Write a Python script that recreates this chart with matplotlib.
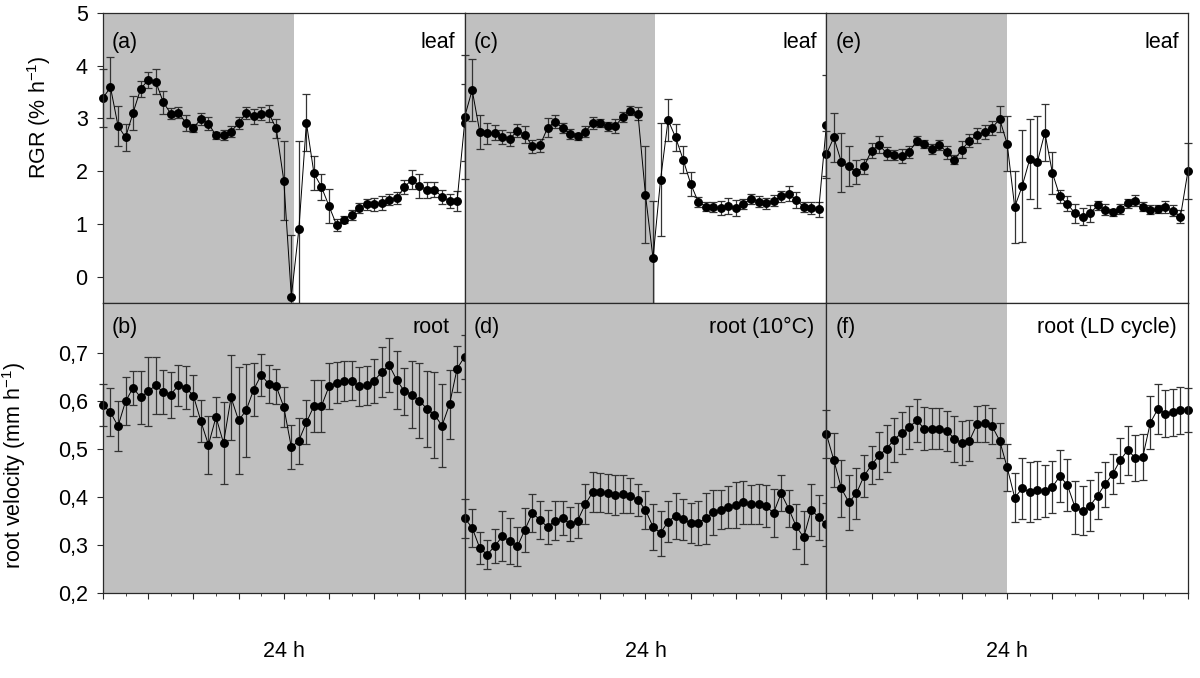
import numpy as np
import matplotlib
matplotlib.use("Agg")
import matplotlib.pyplot as plt
from matplotlib.ticker import MultipleLocator
from matplotlib.transforms import Bbox, TransformedBbox

plt.rcParams['font.family'] = ['Liberation Sans', 'DejaVu Sans']
plt.rcParams['mathtext.fontset'] = 'custom'
plt.rcParams['mathtext.rm'] = 'Liberation Sans'
plt.rcParams['mathtext.default'] = 'rm'

# half-hourly readings over 24 h, one column per experiment
col_start = [0, 24, 48]
dark_end = [12.65, 12.65, 12.0]    # end of dark period (h after column start), top row
bottom_dark_end = [24, 24, 12.0]   # bottom row: (b), (d) fully dark

# leaf RGR (% h-1)
rgr_a = [3.39, 3.59, 2.86, 2.64, 3.11, 3.56, 3.73, 3.70, 3.31, 3.09, 3.11, 2.92, 2.82,
         2.99, 2.90, 2.68, 2.69, 2.75, 2.91, 3.10, 3.04, 3.09, 3.10, 2.81, 1.82, -0.38,
         0.90, 2.92, 1.96, 1.70, 1.34, 0.98, 1.08, 1.17, 1.30, 1.37, 1.37, 1.39, 1.46,
         1.49, 1.70, 1.84, 1.72, 1.65, 1.65, 1.51, 1.44, 1.44, 2.92]
rgr_a_err = [0.55, 0.58, 0.38, 0.26, 0.32, 0.16, 0.15, 0.24, 0.22, 0.10, 0.10, 0.15, 0.07,
             0.12, 0.12, 0.07, 0.10, 0.10, 0.11, 0.11, 0.14, 0.12, 0.16, 0.18, 0.75, 1.17,
             1.68, 0.54, 0.32, 0.25, 0.33, 0.12, 0.07, 0.10, 0.10, 0.10, 0.12, 0.13, 0.11,
             0.11, 0.14, 0.18, 0.22, 0.15, 0.14, 0.14, 0.13, 0.19, 0.73]
rgr_c = [3.03, 3.54, 2.75, 2.72, 2.73, 2.65, 2.61, 2.77, 2.69, 2.47, 2.49, 2.82, 2.94,
         2.82, 2.71, 2.66, 2.75, 2.91, 2.91, 2.85, 2.86, 3.03, 3.15, 3.09, 1.55, 0.35,
         1.84, 2.97, 2.64, 2.22, 1.76, 1.42, 1.33, 1.32, 1.30, 1.34, 1.30, 1.38, 1.47,
         1.42, 1.39, 1.44, 1.52, 1.57, 1.46, 1.32, 1.30, 1.28, 2.87]
rgr_c_err = [1.17, 0.59, 0.32, 0.20, 0.14, 0.14, 0.13, 0.13, 0.16, 0.13, 0.12, 0.18, 0.13,
             0.10, 0.09, 0.06, 0.11, 0.11, 0.08, 0.09, 0.13, 0.10, 0.09, 0.12, 0.92, 1.09,
             1.07, 0.40, 0.25, 0.26, 0.23, 0.09, 0.08, 0.10, 0.13, 0.15, 0.15, 0.10, 0.10,
             0.10, 0.11, 0.10, 0.10, 0.14, 0.15, 0.10, 0.11, 0.14, 0.96]
rgr_e = [2.32, 2.64, 2.17, 2.09, 1.98, 2.09, 2.39, 2.50, 2.34, 2.31, 2.29, 2.36, 2.58,
         2.52, 2.42, 2.50, 2.36, 2.22, 2.41, 2.58, 2.68, 2.74, 2.82, 2.99, 2.52, 1.32,
         1.72, 2.23, 2.17, 2.73, 1.97, 1.52, 1.38, 1.20, 1.14, 1.20, 1.35, 1.27, 1.22,
         1.28, 1.39, 1.44, 1.33, 1.27, 1.28, 1.32, 1.25, 1.14, 2.01]
rgr_e_err = [0.45, 0.46, 0.56, 0.38, 0.23, 0.14, 0.14, 0.16, 0.12, 0.10, 0.13, 0.11, 0.09,
             0.08, 0.10, 0.09, 0.12, 0.09, 0.16, 0.13, 0.14, 0.13, 0.14, 0.24, 0.52, 0.68,
             1.07, 0.76, 0.87, 0.54, 0.40, 0.12, 0.14, 0.18, 0.17, 0.16, 0.09, 0.10, 0.07,
             0.09, 0.08, 0.10, 0.09, 0.08, 0.08, 0.12, 0.10, 0.13, 0.53]

# root velocity (mm h-1)
vel_b = [0.592, 0.577, 0.548, 0.600, 0.628, 0.608, 0.621, 0.633, 0.619, 0.614, 0.633,
         0.628, 0.612, 0.558, 0.509, 0.567, 0.513, 0.608, 0.560, 0.581, 0.624, 0.655,
         0.636, 0.631, 0.588, 0.504, 0.518, 0.556, 0.590, 0.590, 0.631, 0.639, 0.643,
         0.643, 0.631, 0.633, 0.643, 0.661, 0.675, 0.644, 0.621, 0.614, 0.601, 0.584,
         0.572, 0.549, 0.594, 0.668, 0.693]
vel_b_err = [0.043, 0.050, 0.052, 0.050, 0.035, 0.056, 0.072, 0.059, 0.046, 0.048, 0.042,
             0.045, 0.042, 0.044, 0.061, 0.042, 0.086, 0.088, 0.112, 0.097, 0.055, 0.044,
             0.040, 0.037, 0.041, 0.046, 0.048, 0.046, 0.055, 0.055, 0.048, 0.042, 0.042,
             0.040, 0.040, 0.040, 0.046, 0.052, 0.056, 0.060, 0.049, 0.069, 0.078, 0.079,
             0.090, 0.087, 0.072, 0.048, 0.046]
vel_d = [0.356, 0.336, 0.294, 0.280, 0.298, 0.318, 0.308, 0.297, 0.332, 0.367, 0.352,
         0.338, 0.351, 0.356, 0.344, 0.351, 0.385, 0.410, 0.410, 0.408, 0.405, 0.406,
         0.403, 0.394, 0.373, 0.338, 0.325, 0.349, 0.361, 0.354, 0.346, 0.346, 0.356,
         0.368, 0.374, 0.379, 0.384, 0.389, 0.385, 0.385, 0.381, 0.367, 0.408, 0.376,
         0.339, 0.316, 0.373, 0.358, 0.343]
vel_d_err = [0.041, 0.040, 0.034, 0.031, 0.035, 0.052, 0.048, 0.041, 0.046, 0.040, 0.040,
             0.036, 0.040, 0.036, 0.036, 0.037, 0.042, 0.042, 0.041, 0.041, 0.042, 0.040,
             0.036, 0.033, 0.039, 0.048, 0.047, 0.043, 0.048, 0.043, 0.042, 0.045, 0.053,
             0.046, 0.041, 0.044, 0.048, 0.045, 0.041, 0.042, 0.044, 0.050, 0.038, 0.039,
             0.047, 0.055, 0.054, 0.047, 0.044]
vel_f = [0.532, 0.477, 0.418, 0.389, 0.408, 0.444, 0.467, 0.487, 0.501, 0.520, 0.534,
         0.546, 0.560, 0.543, 0.543, 0.543, 0.538, 0.522, 0.513, 0.518, 0.552, 0.554,
         0.548, 0.518, 0.462, 0.399, 0.418, 0.411, 0.415, 0.413, 0.421, 0.444, 0.425,
         0.379, 0.372, 0.382, 0.403, 0.427, 0.448, 0.477, 0.498, 0.482, 0.484, 0.555,
         0.584, 0.574, 0.577, 0.581, 0.581]
vel_f_err = [0.050, 0.056, 0.059, 0.057, 0.053, 0.044, 0.040, 0.049, 0.049, 0.046, 0.044,
             0.045, 0.044, 0.045, 0.043, 0.042, 0.042, 0.048, 0.046, 0.042, 0.038, 0.038,
             0.038, 0.036, 0.049, 0.051, 0.063, 0.062, 0.060, 0.054, 0.055, 0.055, 0.055,
             0.055, 0.052, 0.053, 0.049, 0.047, 0.041, 0.047, 0.051, 0.048, 0.048, 0.055,
             0.053, 0.049, 0.049, 0.049, 0.046]

top_series = [(rgr_a, rgr_a_err), (rgr_c, rgr_c_err), (rgr_e, rgr_e_err)]
bot_series = [(vel_b, vel_b_err), (vel_d, vel_d_err), (vel_f, vel_f_err)]
top_labels = ['(a)', '(c)', '(e)']
bot_labels = ['(b)', '(d)', '(f)']
top_names = ['leaf', 'leaf', 'leaf']
bot_names = ['root', 'root (10°C)', 'root (LD cycle)']
bot_name_x = [0.959, 0.967, 0.97]
bot_yticks = [0.2, 0.3, 0.4, 0.5, 0.6, 0.7]
bot_yticklabels = ['0,2', '0,3', '0,4', '0,5', '0,6', '0,7']

shade = '#c0c0c0'
spine_col = '#2a2a2a'
fs = 15.5

fig, axes = plt.subplots(2, 3, figsize=(12, 6.78), dpi=100)
fig.subplots_adjust(left=0.0858, right=0.99, top=0.9808, bottom=0.1254,
                    wspace=0, hspace=0)


def draw(ax, start, vals, errs, dark):
    x = start + 0.5 * np.arange(len(vals))
    ax.axvspan(start, start + dark, color=shade, lw=0, zorder=0)
    eb = ax.errorbar(x, vals, yerr=errs, fmt='none', ecolor='#333333',
                     elinewidth=0.9, capsize=3, capthick=0.9, zorder=2)
    # let caps at the column edges show, but keep the y clipping
    box = TransformedBbox(Bbox([[-0.03, 0], [1.03, 1]]), ax.transAxes)
    for art in eb.lines[1] + eb.lines[2]:
        art.set_clip_box(box)
    ax.plot(x, vals, '-', color='black', lw=0.7, zorder=3, clip_on=False)
    ax.plot(x, vals, 'o', color='black', ms=5.4, zorder=4, clip_on=False)
    ax.set_xlim(start, start + 24)
    for s in ax.spines.values():
        s.set_color(spine_col)
        s.set_linewidth(0.9)
        s.set_zorder(5)


for j in range(3):
    ax = axes[0, j]
    vals, errs = top_series[j]
    draw(ax, col_start[j], vals, errs, dark_end[j])
    ax.set_ylim(-0.5, 5)
    ax.set_xticks([])
    ax.text(0.025, 0.9, top_labels[j], transform=ax.transAxes, fontsize=fs,
            ha='left', va='center')
    ax.text(0.975, 0.9, top_names[j], transform=ax.transAxes, fontsize=fs,
            ha='right', va='center')

    ax = axes[1, j]
    vals, errs = bot_series[j]
    draw(ax, col_start[j], vals, errs, bottom_dark_end[j])
    ax.set_ylim(0.2, 0.805)
    ax.xaxis.set_major_locator(MultipleLocator(3))
    ax.xaxis.set_minor_locator(MultipleLocator(1.5))
    ax.tick_params(axis='x', which='major', length=4, color=spine_col, labelbottom=False)
    ax.tick_params(axis='x', which='minor', length=2, color=spine_col)
    ax.text(0.025, 0.914, bot_labels[j], transform=ax.transAxes, fontsize=fs,
            ha='left', va='center')
    ax.text(bot_name_x[j], 0.914, bot_names[j], transform=ax.transAxes, fontsize=fs,
            ha='right', va='center')
    ax.text(0.5, -0.203, '24 h', transform=ax.transAxes, fontsize=fs,
            ha='center', va='center')

    if j == 0:
        top = axes[0, j]
        top.set_yticks([0, 1, 2, 3, 4, 5])
        top.tick_params(axis='y', length=4, pad=7, color=spine_col, labelsize=fs)
        top.set_ylabel('RGR (% h$^{\\mathrm{-1}}$)', fontsize=fs)
        top.yaxis.set_label_coords(-0.138, 0.64)
        ax.set_yticks(bot_yticks)
        ax.set_yticklabels(bot_yticklabels)
        ax.tick_params(axis='y', length=4, pad=7, color=spine_col, labelsize=fs)
        ax.set_ylabel('root velocity (mm h$^{\\mathrm{-1}}$)', fontsize=fs)
        ax.yaxis.set_label_coords(-0.207, 0.44)
    else:
        axes[0, j].set_yticks([])
        ax.set_yticks([])

fig.savefig('out.png', dpi=100)
